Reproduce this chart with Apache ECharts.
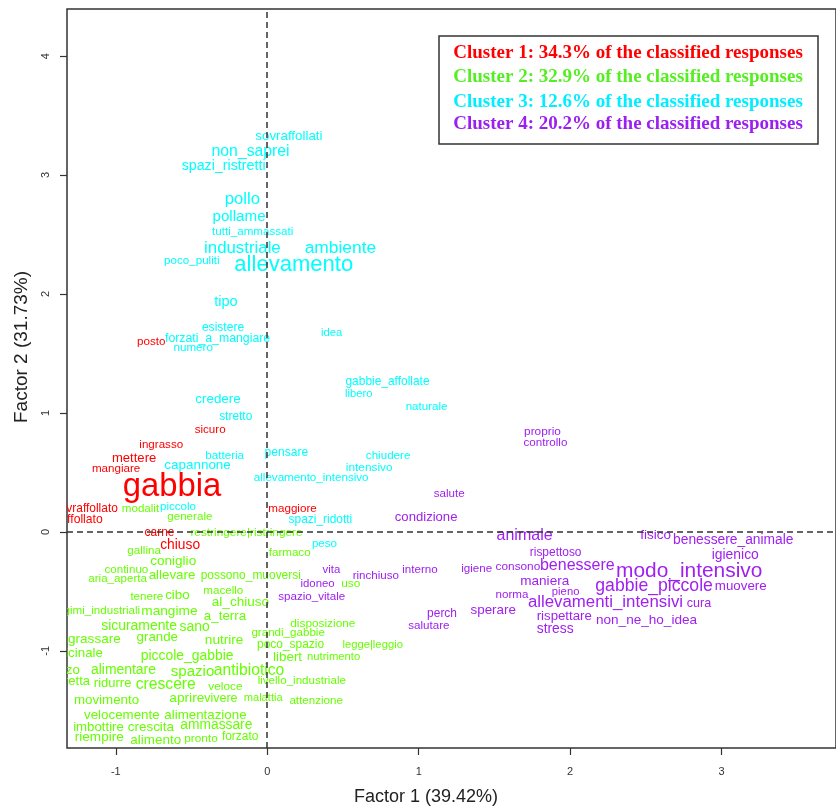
<!DOCTYPE html>
<html>
<head>
<meta charset="utf-8">
<script src="https://cdn.jsdelivr.net/npm/echarts@6/dist/echarts.min.js"></script>
<style>
  html, body { margin: 0; padding: 0; background: #fff; }
  #chart { width: 836px; height: 807px; }
</style>
</head>
<body>
<div id="chart"></div>
<script>
// Correspondence analysis word map: factor coordinates and relative label size (cex) per word.

const xTicks = [-1, 0, 1, 2, 3];
const yTicks = [-1, 0, 1, 2, 3, 4];

const clusterNames = [
  'Cluster 1: 34.3% of the classified responses',
  'Cluster 2: 32.9% of the classified responses',
  'Cluster 3: 12.6% of the classified responses',
  'Cluster 4: 20.2% of the classified responses'
];

// Cluster 1
const c1Words = ['posto', 'sicuro', 'ingrasso', 'mettere', 'mangiare', 'gabbia', 'sovraffollato', 'affollato', 'carne', 'chiuso', 'maggiore'];
const c1X = [-0.766, -0.377, -0.700, -0.879, -0.998, -0.629, -1.198, -1.226, -0.711, -0.575, 0.167];
const c1Y = [1.595, 0.855, 0.729, 0.622, 0.532, 0.381, 0.193, 0.107, -0.011, -0.109, 0.193];
const c1Cex = [1.0, 1.0, 1.0, 1.13, 1.0, 2.83, 1.03, 1.05, 1.03, 1.19, 1.0];

// Cluster 2
const c2Words = ['modalit', 'generale', 'restringere|ristringere', 'gallina', 'coniglio', 'continuo', 'aria_aperta', 'allevare',
  'possono_muoversi', 'tenere', 'cibo', 'macello', 'al_chiuso', 'regimi_industriali', 'mangime', 'a_terra', 'sicuramente', 'sano',
  'ingrassare', 'grande', 'nutrire', 'medicinale', 'piccole_gabbie', 'prezzo', 'alimentare', 'spazio', 'antibiotico', 'fretta',
  'ridurre', 'crescere', 'veloce', 'livello_industriale', 'movimento', 'aprire', 'vivere', 'malattia', 'attenzione', 'velocemente',
  'alimentazione', 'imbottire', 'crescita', 'ammassare', 'riempire', 'alimento', 'pronto', 'forzato', 'farmaco', 'uso',
  'disposizione', 'grandi_gabbie', 'poco_spazio', 'legge|leggio', 'libert', 'nutrimento'];
const c2X = [-0.837, -0.511, -0.137, -0.813, -0.621, -0.930, -0.988, -0.629,
  -0.109, -0.795, -0.593, -0.290, -0.177, -1.126, -0.646, -0.279, -0.846, -0.479,
  -1.176, -0.726, -0.285, -1.295, -0.529, -1.369, -0.949, -0.493, -0.120, -1.268,
  -1.021, -0.670, -0.276, 0.228, -1.061, -0.531, -0.306, -0.027, 0.323, -0.960,
  -0.408, -1.114, -0.768, -0.336, -1.109, -0.736, -0.437, -0.179, 0.148, 0.551,
  0.367, 0.138, 0.154, 0.696, 0.134, 0.438];
const c2Y = [0.193, 0.126, -0.011, -0.160, -0.244, -0.320, -0.395, -0.367,
  -0.367, -0.544, -0.530, -0.496, -0.595, -0.662, -0.670, -0.712, -0.791, -0.802,
  -0.902, -0.889, -0.914, -1.020, -1.043, -1.161, -1.161, -1.175, -1.166, -1.253,
  -1.273, -1.287, -1.306, -1.253, -1.419, -1.399, -1.399, -1.399, -1.419, -1.545,
  -1.545, -1.646, -1.646, -1.629, -1.730, -1.749, -1.735, -1.722, -0.179, -0.440,
  -0.774, -0.852, -0.950, -0.950, -1.054, -1.049];
const c2Cex = [1.0, 1.0, 1.02, 1.0, 1.17, 1.0, 1.0, 1.15,
  1.03, 1.0, 1.15, 1.0, 1.17, 1.0, 1.18, 1.15, 1.2, 1.2,
  1.17, 1.15, 1.17, 1.15, 1.2, 1.15, 1.2, 1.3, 1.35, 1.12,
  1.12, 1.35, 1.02, 1.0, 1.15, 1.18, 1.08, 0.96, 1.0, 1.15,
  1.15, 1.14, 1.16, 1.19, 1.17, 1.16, 1.02, 1.03, 1.0, 1.02,
  1.02, 1.0, 1.03, 0.97, 1.16, 0.97];

// Cluster 3
const c3Words = ['sovraffollati', 'non_saprei', 'spazi_ristretti', 'pollo', 'pollame', 'tutti_ammassati', 'industriale', 'ambiente',
  'poco_puliti', 'allevamento', 'tipo', 'esistere', 'forzati_a_mangiare', 'numero', 'idea', 'credere', 'stretto', 'batteria',
  'capannone', 'pensare', 'allevamento_intensivo', 'piccolo', 'spazi_ridotti', 'peso', 'gabbie_affollate', 'libero', 'naturale',
  'chiudere', 'intensivo'];
const c3X = [0.143, -0.110, -0.288, -0.164, -0.186, -0.096, -0.164, 0.483,
  -0.498, 0.175, -0.273, -0.292, -0.328, -0.489, 0.425, -0.325, -0.208, -0.281,
  -0.460, 0.126, 0.290, -0.589, 0.351, 0.378, 0.794, 0.604, 1.052,
  0.798, 0.673];
const c3Y = [3.325, 3.199, 3.078, 2.798, 2.647, 2.526, 2.386, 2.389,
  2.282, 2.246, 1.932, 1.716, 1.629, 1.548, 1.671, 1.116, 0.967, 0.639,
  0.561, 0.664, 0.452, 0.208, 0.101, -0.101, 1.259, 1.158, 1.049,
  0.639, 0.536];
const c3Cex = [1.15, 1.36, 1.23, 1.44, 1.31, 1.0, 1.45, 1.5,
  1.0, 1.9, 1.25, 1.04, 1.06, 1.0, 0.97, 1.16, 1.03, 1.0,
  1.16, 1.04, 1.0, 1.0, 1.03, 1.0, 1.03, 0.97, 1.0,
  1.0, 1.02];

// Cluster 4
const c4Words = ['proprio', 'controllo', 'salute', 'condizione', 'animale', 'fisico', 'benessere_animale', 'rispettoso', 'igienico',
  'consono', 'benessere', 'modo_intensivo', 'igiene', 'interno', 'rinchiuso', 'vita', 'idoneo', 'spazio_vitale', 'maniera', 'pieno',
  'gabbie_piccole', 'muovere', 'norma', 'sperare', 'allevamenti_intensivi', 'cura', 'rispettare', 'non_ne_ho_idea', 'stress',
  'perch', 'salutare'];
const c4X = [1.817, 1.837, 1.201, 1.049, 1.699, 2.564, 3.077, 1.904, 3.090,
  1.655, 2.047, 2.786, 1.383, 1.008, 0.717, 0.424, 0.332, 0.294, 1.832, 1.970,
  2.554, 3.126, 1.616, 1.492, 2.233, 2.850, 1.961, 2.504, 1.901,
  1.154, 1.067];
const c4Y = [0.844, 0.746, 0.320, 0.118, -0.034, -0.025, -0.067, -0.179, -0.193,
  -0.292, -0.283, -0.334, -0.314, -0.320, -0.370, -0.320, -0.440, -0.544, -0.418, -0.502,
  -0.460, -0.460, -0.530, -0.656, -0.591, -0.606, -0.712, -0.746, -0.818,
  -0.690, -0.788];
const c4Cex = [1.02, 1.0, 1.0, 1.13, 1.38, 1.16, 1.19, 1.03, 1.2,
  1.02, 1.38, 1.8, 1.0, 1.0, 1.0, 0.98, 0.98, 1.0, 1.17, 0.97,
  1.52, 1.15, 1.0, 1.16, 1.45, 1.08, 1.14, 1.17, 1.19,
  1.03, 1.0];

const clusterColors = ['#ff0000', '#66ff00', '#00ffff', '#a020f0'];
const legendColors = ['#ff0000', '#55ee22', '#00eeff', '#9a1ff0'];
const baseFont = 11.6;
const sansFamily = '"Liberation Sans", Arial, sans-serif';

function wordSeries(words, xs, ys, cex, color, withAxes) {
  const s = {
    type: 'custom',
    clip: true,
    silent: true,
    data: xs.map((x, i) => [x, ys[i], cex[i]]),
    renderItem: function (params, api) {
      const p = api.coord([api.value(0), api.value(1)]);
      return {
        type: 'text',
        x: p[0],
        y: p[1],
        style: {
          text: words[params.dataIndex],
          fill: color,
          fontFamily: sansFamily,
          fontSize: baseFont * api.value(2),
          align: 'center',
          verticalAlign: 'middle'
        }
      };
    }
  };
  if (withAxes) {
    // dashed reference lines through the origin
    s.markLine = {
      silent: true,
      symbol: ['none', 'none'],
      label: { show: false },
      lineStyle: { color: '#333', width: 1.5, type: [6, 4] },
      data: [{ xAxis: 0 }, { yAxis: 0 }]
    };
  }
  return s;
}

const chart = echarts.init(document.getElementById('chart'), null, { renderer: 'canvas' });

const legendGraphics = [{
  type: 'rect',
  shape: { x: 439, y: 36, width: 379, height: 108 },
  style: { fill: '#fff', stroke: '#333', lineWidth: 1.5 },
  z: 10
}];
const legendRows = [53, 77, 102, 124];
clusterNames.forEach((name, i) => {
  legendGraphics.push({
    type: 'text',
    x: 628,
    y: legendRows[i],
    z: 11,
    style: {
      text: name,
      fill: legendColors[i],
      font: 'bold 19px "Liberation Serif", "Times New Roman", serif',
      align: 'center',
      verticalAlign: 'middle'
    }
  });
});

chart.setOption({
  animation: false,
  backgroundColor: '#fff',
  grid: {
    left: 67, top: 9, right: -4, bottom: 59,
    show: true, borderColor: '#333', borderWidth: 1.5, backgroundColor: 'transparent'
  },
  xAxis: {
    type: 'value', min: -1.322, max: 3.755,
    axisLine: { show: false, onZero: false },
    splitLine: { show: false },
    axisTick: { show: true, inside: false, length: 7, lineStyle: { color: '#333', width: 1.2 }, customValues: xTicks },
    axisLabel: { customValues: xTicks, color: '#333', fontSize: 11, margin: 18, fontFamily: sansFamily }
  },
  yAxis: {
    type: 'value', min: -1.817, max: 4.396,
    axisLine: { show: false, onZero: false },
    splitLine: { show: false },
    axisTick: { show: true, inside: false, length: 7, lineStyle: { color: '#333', width: 1.2 }, customValues: yTicks },
    axisLabel: { customValues: yTicks, rotate: 90, color: '#333', fontSize: 11, margin: 16, fontFamily: sansFamily }
  },
  graphic: legendGraphics.concat([
    {
      type: 'text', x: 426, y: 797,
      style: { text: 'Factor 1 (39.42%)', fill: '#222', font: '18px ' + sansFamily, align: 'center', verticalAlign: 'middle' }
    },
    {
      type: 'text', x: 22, y: 347, rotation: Math.PI / 2,
      style: { text: 'Factor 2 (31.73%)', fill: '#222', font: '19px ' + sansFamily, align: 'center', verticalAlign: 'middle' }
    }
  ]),
  series: [
    wordSeries(c1Words, c1X, c1Y, c1Cex, clusterColors[0], true),
    wordSeries(c2Words, c2X, c2Y, c2Cex, clusterColors[1], false),
    wordSeries(c3Words, c3X, c3Y, c3Cex, clusterColors[2], false),
    wordSeries(c4Words, c4X, c4Y, c4Cex, clusterColors[3], false)
  ]
});
</script>
</body>
</html>
